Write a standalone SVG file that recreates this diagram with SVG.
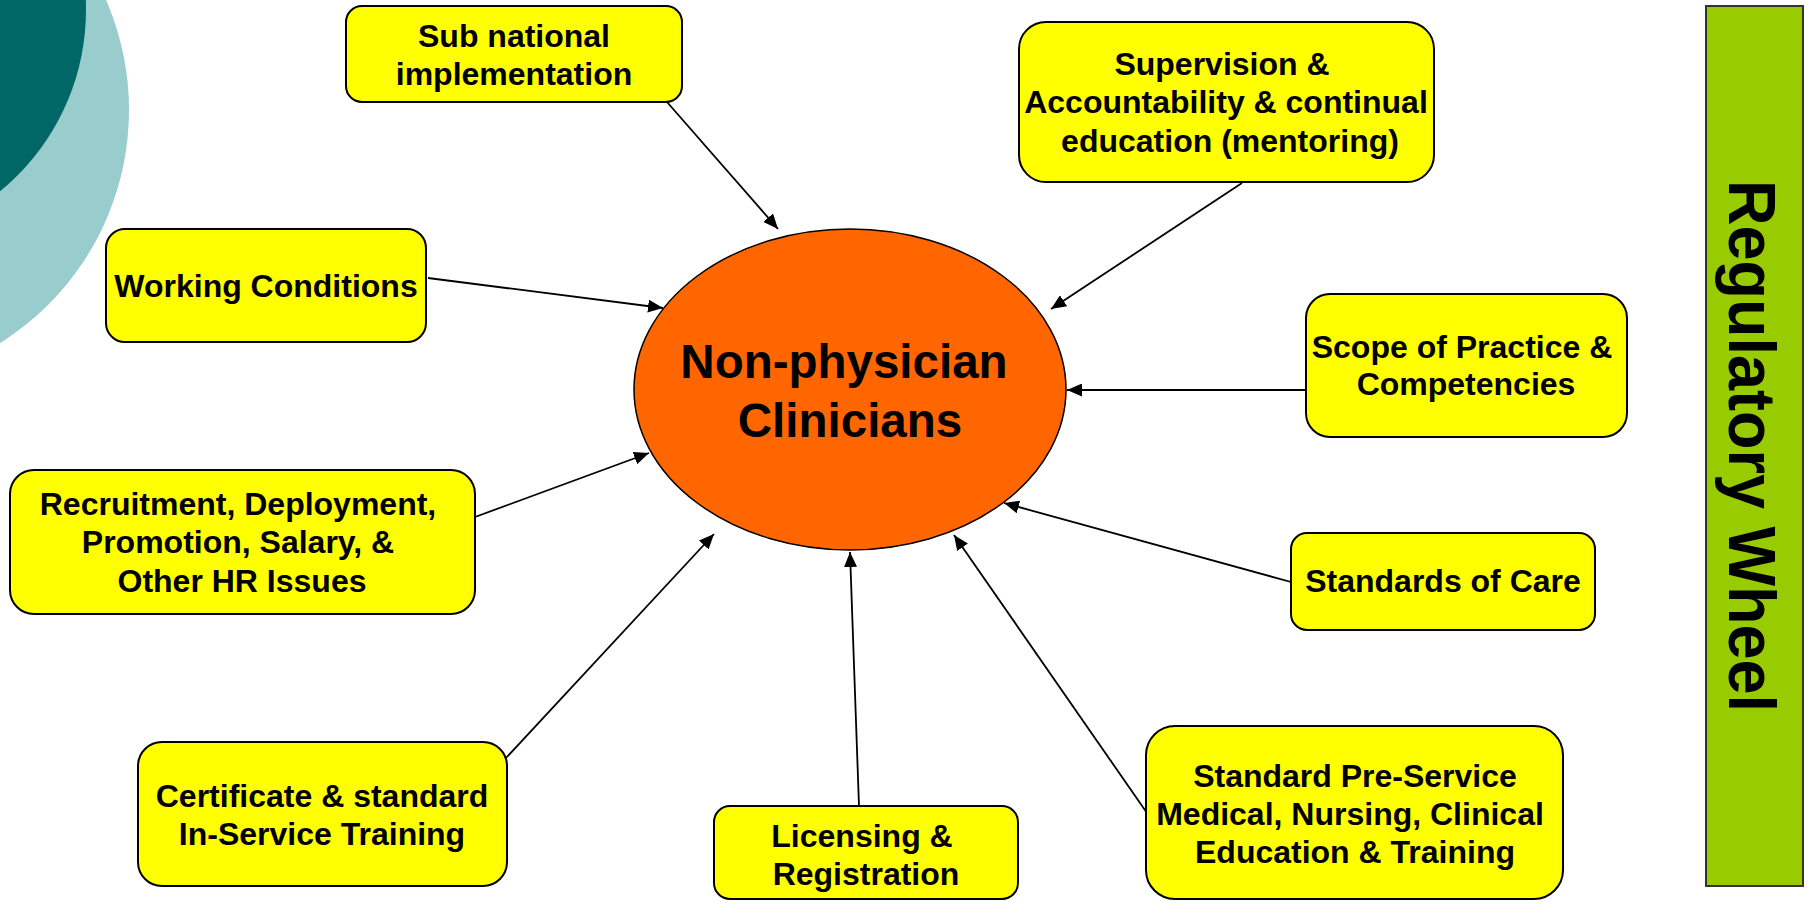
<svg xmlns="http://www.w3.org/2000/svg" width="1808" height="901" viewBox="0 0 1808 901">
<style>
.box{fill:#FFFF00;stroke:#000;stroke-width:2}
.t{font-family:"Liberation Sans",Arial,sans-serif;font-weight:bold;font-size:32px;fill:#000;text-anchor:middle}
.big{font-size:47.5px}
.con{stroke:#000;stroke-width:1.8;fill:none;marker-end:url(#ah)}
</style>
<defs>
<marker id="ah" viewBox="0 0 15 13" refX="15" refY="6.5" markerWidth="15" markerHeight="13" markerUnits="userSpaceOnUse" orient="auto">
<path d="M0,0 L15,6.5 L0,13 z" fill="#000"/>
</marker>
</defs>
<rect width="1808" height="901" fill="#fff"/>
<g id="decor">
<circle cx="-146" cy="110" r="275" fill="#99CCCC"/>
<circle cx="-148" cy="10" r="234" fill="#006666"/>
</g>
<g id="connectors">
<line class="con" x1="667" y1="102" x2="778" y2="229"/>
<line class="con" x1="428" y1="278" x2="663" y2="308"/>
<line class="con" x1="1242" y1="183" x2="1051" y2="309"/>
<line class="con" x1="1306" y1="390" x2="1067" y2="390"/>
<line class="con" x1="1291" y1="582" x2="1004" y2="503"/>
<line class="con" x1="1147" y1="813" x2="954" y2="535"/>
<line class="con" x1="859" y1="806" x2="850" y2="552"/>
<line class="con" x1="506" y1="758" x2="714" y2="534"/>
<line class="con" x1="475" y1="517" x2="649" y2="453"/>
</g>
<g id="center">
<ellipse cx="850" cy="389.5" rx="216" ry="160.5" fill="#FF6600" stroke="#000" stroke-width="1.5"/>
<text class="t big" x="844" y="378">Non-physician</text>
<text class="t big" x="850" y="437">Clinicians</text>
</g>
<g id="sub-national">
<rect class="box" x="346" y="6" width="336" height="96" rx="16"/>
<text class="t" x="514" y="47">Sub national</text>
<text class="t" x="514" y="85">implementation</text>
</g>
<g id="working-conditions">
<rect class="box" x="106" y="229" width="320" height="113" rx="19"/>
<text class="t" x="266" y="297">Working Conditions</text>
</g>
<g id="supervision">
<rect class="box" x="1019" y="22" width="415" height="160" rx="27"/>
<text class="t" x="1222" y="75">Supervision &amp;</text>
<text class="t" x="1226" y="113">Accountability &amp; continual</text>
<text class="t" x="1230" y="152">education (mentoring)</text>
</g>
<g id="scope">
<rect class="box" x="1306" y="294" width="321" height="143" rx="24"/>
<text class="t" x="1462" y="358">Scope of Practice &amp;</text>
<text class="t" x="1466" y="395">Competencies</text>
</g>
<g id="standards-care">
<rect class="box" x="1291" y="533" width="304" height="97" rx="16"/>
<text class="t" x="1443" y="592">Standards of Care</text>
</g>
<g id="pre-service">
<rect class="box" x="1146" y="726" width="417" height="173" rx="29"/>
<text class="t" x="1355" y="787">Standard Pre-Service</text>
<text class="t" x="1350" y="825">Medical, Nursing, Clinical</text>
<text class="t" x="1355" y="863">Education &amp; Training</text>
</g>
<g id="licensing">
<rect class="box" x="714" y="806" width="304" height="93" rx="16"/>
<text class="t" x="862" y="847">Licensing &amp;</text>
<text class="t" x="866" y="885">Registration</text>
</g>
<g id="certificate">
<rect class="box" x="138" y="742" width="369" height="144" rx="24"/>
<text class="t" x="322" y="807">Certificate &amp; standard</text>
<text class="t" x="322" y="845">In-Service Training</text>
</g>
<g id="recruitment">
<rect class="box" x="10" y="470" width="465" height="144" rx="24"/>
<text class="t" x="238" y="515">Recruitment, Deployment,</text>
<text class="t" x="238" y="553">Promotion, Salary, &amp;</text>
<text class="t" x="242" y="592">Other HR Issues</text>
</g>
<g id="regulatory-wheel">
<rect x="1706" y="6" width="97" height="880" fill="#99CC00" stroke="#333" stroke-width="2"/>
<text class="t" style="font-size:67px" transform="translate(1729,446) rotate(90) scale(0.94,1)" x="0" y="0">Regulatory Wheel</text>
</g>
</svg>
